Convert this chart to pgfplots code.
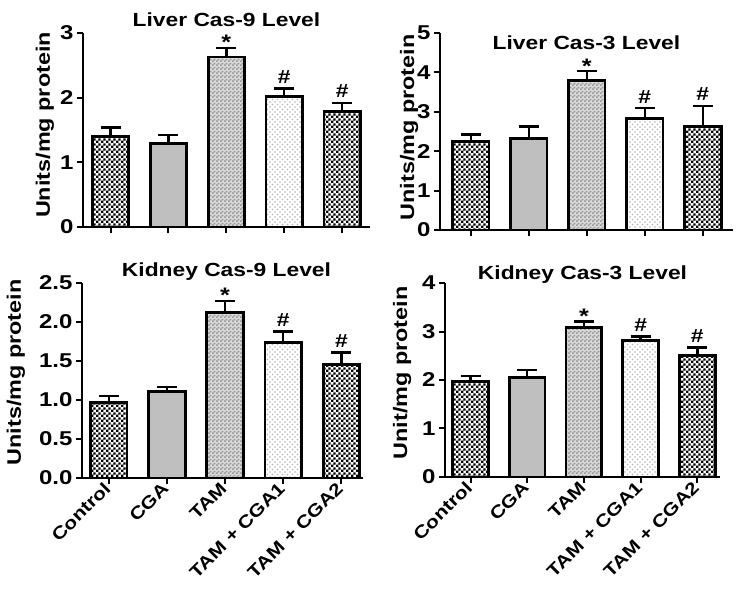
\documentclass[border=0pt]{standalone}
\usepackage{fontspec}
\setmainfont{Liberation Sans}[FakeStretch=1.2]
\usepackage{pgfplots}
\pgfplotsset{compat=1.18}
\usetikzlibrary{patterns}

\pgfdeclarepatternformonly{bigcheck}{\pgfpointorigin}{\pgfqpoint{4.8pt}{4.8pt}}{\pgfqpoint{4.8pt}{4.8pt}}{%
  \pgfpathrectangle{\pgfpointorigin}{\pgfqpoint{2.4pt}{2.4pt}}%
  \pgfpathrectangle{\pgfqpoint{2.4pt}{2.4pt}}{\pgfqpoint{2.4pt}{2.4pt}}%
  \pgfusepath{fill}}
\pgfdeclarepatternformonly{smallcheck}{\pgfpointorigin}{\pgfqpoint{4pt}{4pt}}{\pgfqpoint{4pt}{4pt}}{%
  \pgfpathrectangle{\pgfpointorigin}{\pgfqpoint{2pt}{2pt}}%
  \pgfpathrectangle{\pgfqpoint{2pt}{2pt}}{\pgfqpoint{2pt}{2pt}}%
  \pgfusepath{fill}}
\pgfdeclarepatternformonly{bigdots}{\pgfqpoint{-1pt}{-1pt}}{\pgfqpoint{5pt}{5pt}}{\pgfqpoint{5pt}{5pt}}{%
  \pgfpathcircle{\pgfqpoint{0pt}{0pt}}{0.9pt}%
  \pgfpathcircle{\pgfqpoint{2.5pt}{2.5pt}}{0.9pt}%
  \pgfusepath{fill}}

\newcommand{\tickfont}{\fontsize{20}{22}\selectfont\bfseries}
\newcommand{\titlefont}{\fontsize{19}{21}\selectfont\bfseries}
\newcommand{\labfont}{\fontsize{19.5}{21}\selectfont\bfseries}
\newcommand{\xlabfont}{\fontsize{17.5}{19}\selectfont\bfseries}
\newcommand{\starfont}{\fontsize{21}{22}\selectfont\bfseries}
\newcommand{\hashfont}{\fontsize{19}{20}\selectfont\bfseries}

\pgfplotsset{
  panel/.style={
    scale only axis,
    axis lines*=left,
    axis line style={line width=2.8pt, black},
    tick style={line width=2pt, black},
    major tick length=6pt,
    tick align=outside,
    ymin=0,
    xtick={0,1,2,3,4},
    /pgf/number format/assume math mode=true,
    tick label style={font=\tickfont},
    xticklabel style={font=\xlabfont, rotate=45, anchor=east, inner sep=2pt},
    title style={font=\titlefont, at={(0.5,1)}, anchor=center},
    every axis y label/.style={font=\labfont, rotate=90, anchor=center},
    clip=false,
  },
  mybar/.style={ybar, bar width=0.63, bar shift=0pt, draw=black, line width=2.8pt,
    error bars/y dir=plus, error bars/y explicit,
    error bars/error bar style={line width=2.4pt, black},
    error bars/error mark options={rotate=90, mark size=10pt, line width=2.4pt, black}},
  ctrlbar/.style={mybar, preaction={fill=white}, pattern=bigcheck, pattern color=black},
  cgabar/.style={mybar, fill=gray!50},
  tambar/.style={mybar, preaction={fill=gray!30}, pattern=smallcheck, pattern color=gray!80},
  cgaonebar/.style={mybar, preaction={fill=white}, pattern=bigdots, pattern color=gray!60},
  cgatwobar/.style={mybar, preaction={fill=white}, pattern=bigcheck, pattern color=black},
  starplot/.style={only marks, mark=none, nodes near coords, point meta=explicit symbolic,
    nodes near coords style={anchor=south, inner sep=0pt, yshift=-2pt, font=\starfont}},
  hashplot/.style={only marks, mark=none, nodes near coords, point meta=explicit symbolic,
    nodes near coords style={anchor=south, inner sep=0pt, yshift=5pt, font=\hashfont}},
}

\begin{document}
\begin{tikzpicture}
\path[use as bounding box] (0,0) rectangle (750pt,602pt);

% Top-left: Liver Cas-9
\begin{axis}[panel, at={(83pt,375pt)}, anchor=south west,
  width=287pt, height=194pt, xmin=-0.475, xmax=4.48, ymax=3,
  ytick={0,1,2,3}, xticklabel=\empty,
  title={Liver Cas-9 Level}, title style={yshift=7pt},
  ylabel={Units/mg protein},
  ylabel style={at={([xshift=-38pt,yshift=5pt]axis description cs:0,0.5)}}]
\addplot[ctrlbar] coordinates {(0,1.40) +- (0,0.14)};
\addplot[cgabar] coordinates {(1,1.29) +- (0,0.13)};
\addplot[tambar] coordinates {(2,2.63) +- (0,0.14)};
\addplot[cgaonebar] coordinates {(3,2.02) +- (0,0.12)};
\addplot[cgatwobar] coordinates {(4,1.78) +- (0,0.14)};
\addplot[starplot] coordinates {(2,2.77) [*]};
\addplot[hashplot] coordinates {(3,2.14) [\#] (4,1.92) [\#]};
\end{axis}

% Top-right: Liver Cas-3
\begin{axis}[panel, at={(440pt,372pt)}, anchor=south west,
  width=293pt, height=197pt, xmin=-0.53, xmax=4.52, ymax=5,
  ytick={0,1,2,3,4,5}, xticklabel=\empty,
  title={Liver Cas-3 Level}, title style={yshift=-16pt},
  ylabel={Units/mg protein},
  ylabel style={at={([xshift=-31pt,yshift=4pt]axis description cs:0,0.5)}}]
\addplot[ctrlbar] coordinates {(0,2.25) +- (0,0.17)};
\addplot[cgabar] coordinates {(1,2.33) +- (0,0.30)};
\addplot[tambar] coordinates {(2,3.80) +- (0,0.23)};
\addplot[cgaonebar] coordinates {(3,2.82) +- (0,0.27)};
\addplot[cgatwobar] coordinates {(4,2.63) +- (0,0.52)};
\addplot[starplot] coordinates {(2,4.03) [*]};
\addplot[hashplot] coordinates {(3,3.09) [\#] (4,3.15) [\#]};
\end{axis}

% Bottom-left: Kidney Cas-9
\begin{axis}[panel, at={(82pt,124pt)}, anchor=south west,
  width=281pt, height=195pt, xmin=-0.46, xmax=4.37, ymax=2.5,
  ytick={0,0.5,1,1.5,2,2.5},
  yticklabel style={/pgf/number format/.cd, fixed, fixed zerofill, precision=1},
  xticklabels={Control,CGA,TAM,TAM + CGA1,TAM + CGA2},
  title={Kidney Cas-9 Level}, title style={yshift=5pt, xshift=4pt},
  ylabel={Units/mg protein},
  ylabel style={at={([xshift=-66pt,yshift=8pt]axis description cs:0,0.5)}}]
\addplot[ctrlbar] coordinates {(0,0.965) +- (0,0.085)};
\addplot[cgabar] coordinates {(1,1.11) +- (0,0.06)};
\addplot[tambar] coordinates {(2,2.12) +- (0,0.15)};
\addplot[cgaonebar] coordinates {(3,1.74) +- (0,0.14)};
\addplot[cgatwobar] coordinates {(4,1.45) +- (0,0.16)};
\addplot[starplot] coordinates {(2,2.27) [*]};
\addplot[hashplot] coordinates {(3,1.88) [\#] (4,1.61) [\#]};
\end{axis}

% Bottom-right: Kidney Cas-3
\begin{axis}[panel, at={(445pt,125pt)}, anchor=south west,
  width=275pt, height=194pt, xmin=-0.45, xmax=4.4, ymax=4,
  ytick={0,1,2,3,4},
  xticklabels={Control,CGA,TAM,TAM + CGA1,TAM + CGA2},
  title={Kidney Cas-3 Level}, title style={yshift=2pt},
  ylabel={Unit/mg protein},
  ylabel style={at={([xshift=-43pt,yshift=7pt]axis description cs:0,0.5)}}]
\addplot[ctrlbar] coordinates {(0,1.97) +- (0,0.11)};
\addplot[cgabar] coordinates {(1,2.05) +- (0,0.16)};
\addplot[tambar] coordinates {(2,3.09) +- (0,0.12)};
\addplot[cgaonebar] coordinates {(3,2.81) +- (0,0.09)};
\addplot[cgatwobar] coordinates {(4,2.50) +- (0,0.17)};
\addplot[starplot] coordinates {(2,3.21) [*]};
\addplot[hashplot] coordinates {(3,2.90) [\#] (4,2.67) [\#]};
\end{axis}
\end{tikzpicture}
\end{document}
